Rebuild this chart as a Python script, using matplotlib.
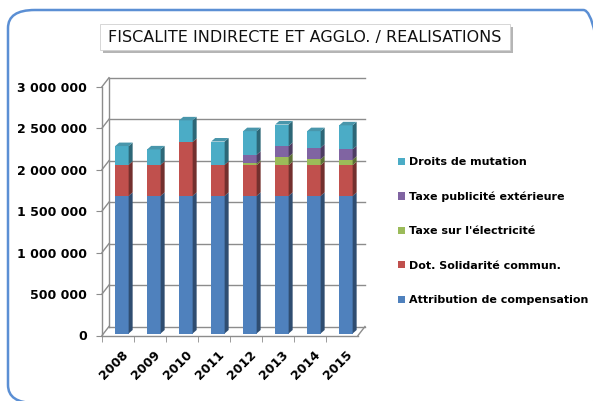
import numpy as np
import matplotlib.pyplot as plt
from matplotlib.patches import Polygon, Patch, FancyBboxPatch
from matplotlib.transforms import offset_copy
import matplotlib.colors as mcolors

# donnees
years = ['2008', '2009', '2010', '2011', '2012', '2013', '2014', '2015']
attribution = [1660000, 1660000, 1660000, 1660000, 1660000, 1660000, 1660000, 1660000]
dot_solidarite = [375000, 375000, 650000, 375000, 370000, 370000, 370000, 370000]
taxe_elec = [0, 0, 0, 0, 20000, 100000, 70000, 65000]
taxe_pub = [0, 0, 0, 0, 105000, 130000, 140000, 125000]
droits_mutation = [225000, 185000, 260000, 280000, 285000, 260000, 200000, 290000]

series = [attribution, dot_solidarite, taxe_elec, taxe_pub, droits_mutation]
labels = ['Attribution de compensation', 'Dot. Solidarité commun.',
          "Taxe sur l'électricité", 'Taxe publicité extérieure', 'Droits de mutation']
colors = ['#4f81bd', '#c0504d', '#9bbb59', '#8064a2', '#4bacc6']
yticks = [0, 500000, 1000000, 1500000, 2000000, 2500000, 3000000]

W, H = 593, 401
fig = plt.figure(figsize=(W / 100, H / 100), dpi=100)
fig.patch.set_facecolor('white')

# cadre arrondi (coupe a droite et en bas)
frame = FancyBboxPatch((8 / W, 1 - 403 / H), 602 / W, 393 / H,
                       boxstyle='round,pad=0,rounding_size=0.045',
                       transform=fig.transFigure, facecolor='none',
                       edgecolor='#5b8fd4', lw=1.8, clip_on=False)
fig.patches.append(frame)

# titre dans une boite avec ombre
fig.patches.append(FancyBboxPatch((103 / W, 1 - 53 / H), 410 / W, 26 / H,
                                  boxstyle='square,pad=0', transform=fig.transFigure,
                                  facecolor='#b5b5b5', edgecolor='none'))
fig.patches.append(FancyBboxPatch((100 / W, 1 - 50 / H), 410 / W, 26 / H,
                                  boxstyle='square,pad=0', transform=fig.transFigure,
                                  facecolor='white', edgecolor='#d0d0d0', lw=0.6))
fig.text(305 / W, 1 - 37.5 / H, 'FISCALITE INDIRECTE ET AGGLO. / REALISATIONS',
         ha='center', va='center', fontsize=11.5, color='#111111')

ax = fig.add_axes([102 / W, 1 - 335.5 / H, 256 / W, (335.5 - 86.7) / H])
ax.set_xlim(-0.5, 7.5)
ax.set_ylim(0, 3000000)
ax.set_facecolor('none')

px_y = 3000000 / ((335.5 - 86.7))  # valeur par pixel
wall = offset_copy(ax.transData, fig, x=7, y=9, units='dots')
grid_col = '#8c8c8c'

# murs et grille (effet 3D)
for v in yticks:
    ax.plot([-0.5, 7.5], [v, v], color=grid_col, lw=1, transform=wall, clip_on=False, zorder=1)
    ax.plot([-0.5, -0.5 + 7 / 32], [v, v + 9 * px_y], color=grid_col, lw=1, clip_on=False, zorder=1)
ax.plot([-0.5, -0.5], [0, 3000000], color=grid_col, lw=1, transform=wall, clip_on=False, zorder=1)
ax.plot([7.5, 7.5 + 7 / 32], [0, 9 * px_y], color=grid_col, lw=1, clip_on=False, zorder=1)

# barres empilees
x = np.arange(len(years)) + 0.06
bar_tr = offset_copy(ax.transData, fig, x=2, y=2, units='dots')
width = 0.42
dx = 4 / 32
dy = 3.5 * px_y
bottom = np.zeros(len(years))
top_col = np.zeros(len(years), dtype=int)
for k, (vals, col) in enumerate(zip(series, colors)):
    vals = np.array(vals, dtype=float)
    ax.bar(x, vals, width, bottom=bottom, color=col, transform=bar_tr, zorder=3,
           edgecolor='none')
    dark = np.array(mcolors.to_rgb(col)) * 0.6
    for i in range(len(years)):
        if vals[i] <= 0:
            continue
        xr = x[i] + width / 2
        b, t = bottom[i], bottom[i] + vals[i]
        ax.add_patch(Polygon([(xr, b), (xr + dx, b + dy), (xr + dx, t + dy), (xr, t)],
                             closed=True, facecolor=dark, edgecolor='none',
                             transform=bar_tr, zorder=3))
        top_col[i] = k
    bottom += vals

for i in range(len(years)):
    col = np.array(mcolors.to_rgb(colors[top_col[i]]))
    light = col * 0.8 + 0.05
    xl, xr = x[i] - width / 2, x[i] + width / 2
    t = bottom[i]
    ax.add_patch(Polygon([(xl, t), (xl + dx, t + dy), (xr + dx, t + dy), (xr, t)],
                         closed=True, facecolor=light, edgecolor='none',
                         transform=bar_tr, zorder=3))

# axes
for s in ['top', 'right']:
    ax.spines[s].set_visible(False)
for s in ['left', 'bottom']:
    ax.spines[s].set_color(grid_col)
    ax.spines[s].set_linewidth(1)

ax.set_yticks(yticks)
ax.set_yticklabels([f'{v:,}'.replace(',', ' ') for v in yticks])
ax.tick_params(axis='y', length=4, color=grid_col, pad=7, labelsize=9)
for lab in ax.get_yticklabels():
    lab.set_fontweight('bold')

ax.set_xticks(np.arange(len(years)) - 0.5, minor=True)
ax.set_xticks(x + 0.06)
ax.set_xticklabels(years, rotation=45, ha='right', rotation_mode='anchor',
                   fontsize=9, fontweight='bold')
ax.tick_params(axis='x', which='major', length=0, pad=9)
ax.tick_params(axis='x', which='minor', length=4, color=grid_col)

handles = [Patch(facecolor=c) for c in colors][::-1]
fig.legend(handles, labels[::-1], loc='upper left', bbox_to_anchor=(398 / W, 1 - 157 / H),
           frameon=False, handlelength=0.6, handleheight=0.6,
           handletextpad=0.35, labelspacing=2.2, borderaxespad=0, borderpad=0,
           prop={'weight': 'bold', 'size': 8})

fig.savefig('out.png', dpi=100)
